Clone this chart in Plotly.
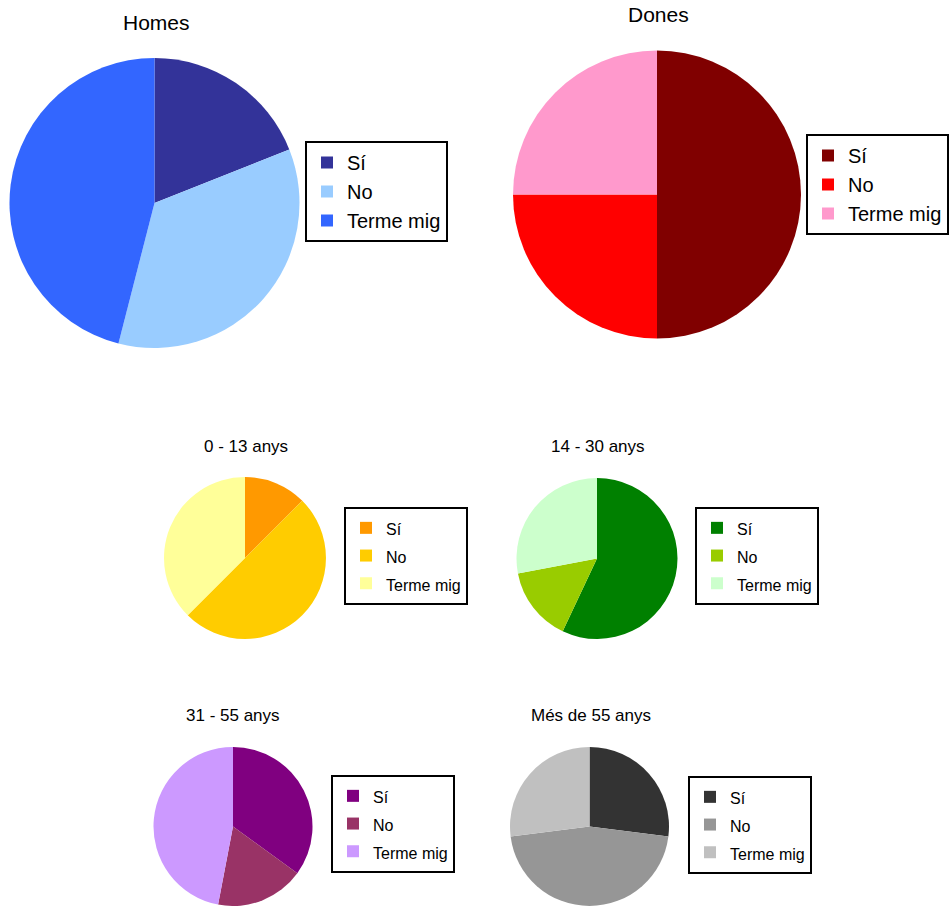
import plotly.graph_objects as go

# ---------------- data ----------------
categories = ["Sí", "No", "Terme mig"]

homes_values = [19, 35, 46]
dones_values = [50, 25, 25]
age_0_13_values = [12.5, 50, 37.5]
age_14_30_values = [57, 15, 28]
age_31_55_values = [35, 18, 47]
age_55_plus_values = [27, 46, 27]

chart_titles = ["Homes", "Dones", "0 - 13 anys", "14 - 30 anys", "31 - 55 anys", "Més de 55 anys"]

# ---------------- styles ----------------
homes_colors = ["#333399", "#99CCFF", "#3366FF"]
dones_colors = ["#800000", "#FF0000", "#FF99CC"]
age_0_13_colors = ["#FF9900", "#FFCC00", "#FFFF99"]
age_14_30_colors = ["#008000", "#99CC00", "#CCFFCC"]
age_31_55_colors = ["#800080", "#993366", "#CC99FF"]
age_55_plus_colors = ["#333333", "#969696", "#C0C0C0"]

W, H = 952, 906
FONT = "Liberation Sans, Arial, sans-serif"


def dom(cx, cy, r):
    x0 = max(0.0, (cx - r) / W)
    x1 = min(1.0, (cx + r) / W)
    y0 = max(0.0, 1 - (cy + r) / H)
    y1 = min(1.0, 1 - (cy - r) / H)
    return dict(x=[x0, x1], y=[y0, y1])


def labels(px=None):
    if px is None:
        return categories
    return [f"<span style='font-size:{px}px'>{c}</span>" for c in categories]


# (values, colors, center x, center y, radius, legend name, label px)
panels = [
    (homes_values, homes_colors, 154.5, 203, 145, "legend", None),
    (dones_values, dones_colors, 657, 194.5, 144, "legend2", None),
    (age_0_13_values, age_0_13_colors, 245, 558, 81, "legend3", 16),
    (age_14_30_values, age_14_30_colors, 597, 558.5, 80.5, "legend4", 16),
    (age_31_55_values, age_31_55_colors, 233, 826.5, 79.5, "legend5", 16),
    (age_55_plus_values, age_55_plus_colors, 589.5, 826.5, 79.5, "legend6", 16),
]

fig = go.Figure()
for vals, cols, cx, cy, r, leg, px in panels:
    fig.add_trace(go.Pie(
        labels=labels(px),
        values=vals,
        marker=dict(colors=cols, line=dict(width=0)),
        sort=False,
        direction="clockwise",
        rotation=0,
        textinfo="none",
        domain=dom(cx, cy, r),
        legend=leg,
        legendgroup="grp_" + leg,
        showlegend=True,
        hoverinfo="label+percent",
    ))


def legend_box(left, top, fsize):
    return dict(
        x=left / W, y=1 - top / H, xref="paper", yref="paper",
        xanchor="left", yanchor="top",
        bgcolor="white", bordercolor="black", borderwidth=2,
        font=dict(family=FONT, size=fsize, color="black"),
        orientation="v", tracegroupgap=0,
    )


layout_legends = {
    "legend": legend_box(305, 141, 20),
    "legend2": legend_box(806, 134, 20),
    "legend3": legend_box(344, 507, 19),
    "legend4": legend_box(695, 507, 19),
    "legend5": legend_box(331, 775, 19),
    "legend6": legend_box(688, 776, 19),
}

title_pos = [
    (156.5, 22.5, 21),
    (658.5, 15, 21),
    (245.5, 446.5, 17),
    (598, 446, 17),
    (233, 715, 17),
    (590.5, 715, 17),
]
annotations = []
for t, (x, y, s) in zip(chart_titles, title_pos):
    annotations.append(dict(
        text=t, x=x / W, y=1 - y / H, xref="paper", yref="paper",
        xanchor="center", yanchor="middle", showarrow=False,
        font=dict(family=FONT, size=s, color="black"),
    ))

fig.update_layout(
    width=W, height=H,
    margin=dict(l=0, r=0, t=0, b=0),
    paper_bgcolor="white",
    plot_bgcolor="white",
    annotations=annotations,
    **layout_legends,
)

fig.write_html("out.html")
